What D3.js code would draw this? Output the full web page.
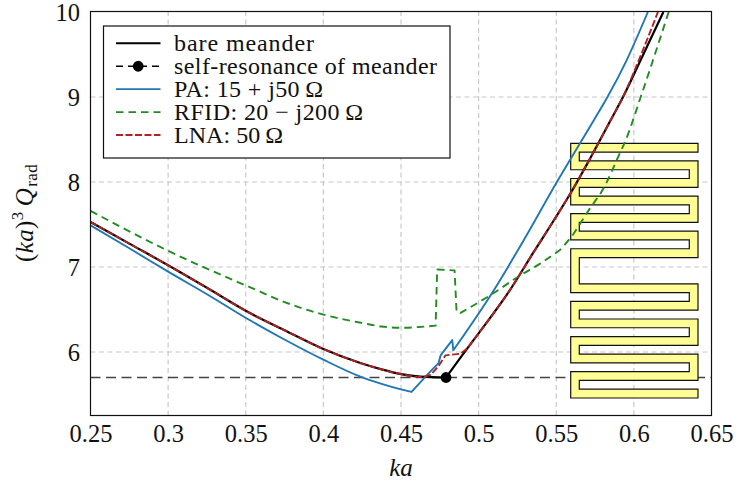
<!DOCTYPE html>
<html><head><meta charset="utf-8">
<style>html,body{margin:0;padding:0;background:#fff}svg{display:block}text{font-family:"Liberation Serif",serif;fill:#111}</style>
<script src="https://cdn.jsdelivr.net/npm/d3@7"></script></head><body>
<svg id="c" width="737" height="483"></svg>
<script>
const xTicks=[0.25,0.3,0.35,0.4,0.45,0.5,0.55,0.6,0.65];
const xTickLabels=["0.25","0.3","0.35","0.4","0.45","0.5","0.55","0.6","0.65"];
const yTicks=[6,7,8,9,10];
const bare=[[.25,7.53],[.275,7.275],[.3,7.02],[.325,6.755],[.353,6.455],[.3746,6.26],[.4,6.035],[.4238,5.87],[.4375,5.795],[.45,5.74],[.4625,5.71],[.479,5.70],[.4926,6.04],[.5,6.22],[.5195,6.71],[.5356,7.18],[.5485,7.55],[.5593,7.87],[.5701,8.22],[.5851,8.73],[.593,9.0],[.604,9.42],[.619,10.0]];
const bareCorners=[.479];
const resonance=[.479,5.70];
const pa=[[.25,7.49],[.275,7.22],[.3,6.945],[.325,6.68],[.353,6.37],[.3746,6.15],[.4,5.91],[.4238,5.71],[.4375,5.625],[.45,5.56],[.4568,5.53],[.471,5.81],[.4742,5.87],[.4755,5.96],[.483,6.14],[.4837,6.02],[.5099,6.73],[.5292,7.32],[.5504,8.0],[.5743,8.73],[.583,9.0],[.595,9.42],[.609,10.0]];
const paCorners=[.4568,.4742,.4755,.483,.4837];
const rfid=[[.25,7.66],[.275,7.42],[.3,7.19],[.325,6.98],[.353,6.76],[.3746,6.59],[.4,6.44],[.4238,6.345],[.4375,6.30],[.45,6.285],[.4625,6.295],[.4723,6.31],[.4733,6.97],[.4845,6.96],[.4858,6.47],[.4884,6.46],[.5077,6.67],[.5267,6.90],[.5396,7.04],[.5524,7.2],[.5599,7.36],[.5717,7.69],[.5803,7.92],[.59,8.30],[.5947,8.49],[.6044,9.0],[.6224,10.0]];
const rfidCorners=[.4723,.4733,.4845,.4858,.4884,.5524];
const lna=[[.25,7.53],[.275,7.275],[.3,7.02],[.325,6.755],[.353,6.455],[.3746,6.26],[.4,6.035],[.4238,5.87],[.4375,5.795],[.45,5.74],[.4625,5.705],[.469,5.73],[.4743,5.84],[.4786,5.96],[.4883,5.98],[.4926,6.04],[.5,6.22],[.5195,6.71],[.5356,7.18],[.5485,7.55],[.5593,7.87],[.5701,8.22],[.5851,8.73],[.593,9.0],[.604,9.47],[.6155,10.0]];
const lnaCorners=[.469,.4786,.4883,.4926];
const legendLabels=["bare meander","self-resonance of meander","PA: 15 + j50\u2009Ω","RFID: 20 − j200\u2009Ω","LNA: 50\u2009Ω"];
const legendWidths=[140,263,149,189,109];
const colors={bare:"#000",pa:"#1f77b4",rfid:"#228b22",lna:"#b22222"};
// meander outline on its own unit grid
const meanderPath=[[0,0],[3,0],[3,1],[1,1],[1,2],[3,2],[3,5],[1,5],[1,6],[3,6],[3,9],[1,9],[1,10],[3,10],[3,13],[1,13],[1,16],[3,16],[3,19],[1,19],[1,20],[3,20],[3,23],[1,23],[1,24],[3,24],[3,27],[1,27],[1,28],[3,28],[3,29],[0,29],[0,26],[2,26],[2,25],[0,25],[0,22],[2,22],[2,21],[0,21],[0,18],[2,18],[2,17],[0,17],[0,12],[2,12],[2,11],[0,11],[0,8],[2,8],[2,7],[0,7],[0,4],[2,4],[2,3],[0,3]];

const svg=d3.select("#c");
const L=90.5,R=711.5,T=11.5,B=415.5;
const x=d3.scaleLinear().domain([.25,.65]).range([L,R]);
const y=d3.scaleLinear().domain([5.2529,10]).range([B,12]);
const smooth=d3.line().x(d=>x(d[0])).y(d=>y(d[1])).curve(d3.curveMonotoneX);
// smooth runs joined at the curve's sharp corners, as one continuous subpath
function curvePath(pts,corners){
  const runs=[];let run=[];
  pts.forEach(p=>{run.push(p);if(corners.includes(p[0])){runs.push(run);run=[p];}});
  if(run.length>1)runs.push(run);
  return runs.map((r,i)=>{const s=smooth(r);return i?s.replace(/^M/,"L"):s;}).join("");
}
svg.append("defs").append("clipPath").attr("id","pl").append("rect").attr("x",L).attr("y",T).attr("width",R-L).attr("height",B-T);

const grid=svg.append("g").attr("stroke","#c8c8c8").attr("stroke-width",1.2).attr("stroke-dasharray","5 3.5");
grid.selectAll(".v").data(xTicks.slice(1,-1)).join("line").attr("x1",d=>x(d)).attr("x2",d=>x(d)).attr("y1",B).attr("y2",T);
grid.selectAll(".h").data(yTicks.slice(0,-1)).join("line").attr("y1",d=>y(d)).attr("y2",d=>y(d)).attr("x1",L).attr("x2",R);

// self-resonance level
svg.append("line").attr("x1",L).attr("x2",R).attr("y1",y(resonance[1])).attr("y2",y(resonance[1])).attr("stroke","#444").attr("stroke-width",1.5).attr("stroke-dasharray","10 5.5");

// meander inset
const mx=d3.scaleLinear().domain([0,1,2,3]).range([570.7,579.3,689.3,698]);
const my=d3.scaleLinear().domain([0,29]).range([143.4,398]);
svg.append("path").attr("d",d3.line().x(d=>mx(d[0])).y(d=>my(d[1]))(meanderPath)+"Z").attr("fill","#fffd94").attr("stroke","#111").attr("stroke-width",1.2);

const g=svg.append("g").attr("clip-path","url(#pl)").attr("fill","none").attr("stroke-linejoin","round");
g.append("path").attr("d",curvePath(bare,bareCorners)).attr("stroke",colors.bare).attr("stroke-width",2.2);
g.append("path").attr("d",curvePath(pa,paCorners)).attr("stroke",colors.pa).attr("stroke-width",1.9);
g.append("path").attr("d",curvePath(rfid,rfidCorners)).attr("stroke",colors.rfid).attr("stroke-width",1.9).attr("stroke-dasharray","7.5 5");
g.append("path").attr("d",curvePath(lna,lnaCorners)).attr("stroke",colors.lna).attr("stroke-width",1.9).attr("stroke-dasharray","7 2.5");
svg.append("circle").attr("cx",x(resonance[0])).attr("cy",y(resonance[1])).attr("r",5.4).attr("fill","#000");

// frame and axes
svg.append("rect").attr("x",L).attr("y",T).attr("width",R-L).attr("height",B-T).attr("fill","none").attr("stroke","#111").attr("stroke-width",1.2);
const ax=svg.append("g").attr("transform",`translate(0,${B})`).call(d3.axisBottom(x).tickValues(xTicks).tickFormat((d,i)=>xTickLabels[i]).tickSize(0).tickPadding(0));
ax.select(".domain").remove();
ax.selectAll("text").attr("font-size",24.5).attr("y",26).attr("dy",0).style("font-family",'"Liberation Serif",serif');
const ay=svg.append("g").attr("transform",`translate(${L},0)`).call(d3.axisLeft(y).tickValues(yTicks).tickFormat(d3.format("d")).tickSize(0).tickPadding(10.5));
ay.select(".domain").remove();
ay.selectAll("text").attr("font-size",24.5).attr("dy",8.5).style("font-family",'"Liberation Serif",serif');

svg.append("text").attr("x",401).attr("y",475.5).attr("text-anchor","middle").attr("font-size",25).attr("font-style","italic").text("ka");
const yl=svg.append("text").attr("transform","translate(33,213) rotate(-90)").attr("text-anchor","middle").attr("font-size",25).attr("letter-spacing",.4);
yl.append("tspan").text("(");
yl.append("tspan").attr("font-style","italic").text("ka");
yl.append("tspan").text(")");
yl.append("tspan").attr("font-size",17).attr("dy",-10).text("3");
yl.append("tspan").attr("font-style","italic").attr("dy",10).attr("dx",5).text("Q");
yl.append("tspan").attr("font-size",17).attr("dy",4).attr("dx",1).text("rad");

// legend
const lg=svg.append("g");
lg.append("rect").attr("x",103.5).attr("y",26).attr("width",346.5).attr("height",132).attr("fill","#fff").attr("stroke","#111").attr("stroke-width",1.2);
const ry=d3.scalePoint().domain(legendLabels).range([43.3,135]);
const styles=[[colors.bare,2,null],["#000",1.5,"7 5"],[colors.pa,1.9,null],[colors.rfid,1.9,"7.5 5"],[colors.lna,1.9,"7 2.5"]];
legendLabels.forEach((t,i)=>{
  const yy=ry(t);
  lg.append("line").attr("x1",116).attr("x2",160.5).attr("y1",yy).attr("y2",yy).attr("stroke",styles[i][0]).attr("stroke-width",styles[i][1]).attr("stroke-dasharray",styles[i][2]);
  if(i===1) lg.append("circle").attr("cx",138.2).attr("cy",yy).attr("r",5.4).attr("fill","#000");
  lg.append("text").attr("x",174).attr("y",yy+7.5).attr("font-size",24).attr("textLength",legendWidths[i]).attr("lengthAdjust","spacing").text(t);
});
</script></body></html>
